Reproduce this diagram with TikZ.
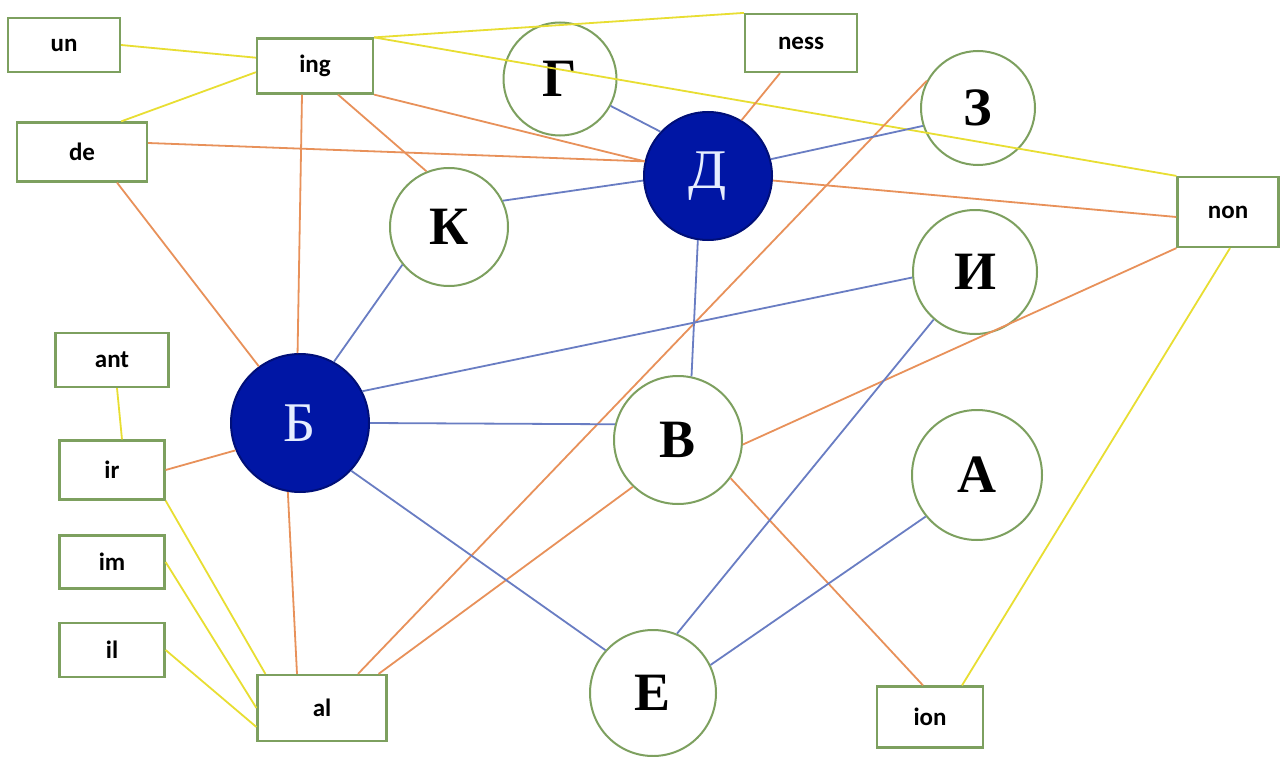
\documentclass[tikz,border=0pt]{standalone}
\usepackage{fontspec}
\setmainfont{Liberation Serif}
\newfontfamily\boxfont{Carlito}
\usetikzlibrary{calc}
\definecolor{gborder}{RGB}{125,160,95}
\definecolor{ylw}{RGB}{232,222,50}
\definecolor{org}{RGB}{232,145,90}
\definecolor{blu}{RGB}{105,125,195}
\definecolor{navy}{RGB}{0,22,165}
\definecolor{navyd}{RGB}{0,15,120}
\definecolor{ltxt}{RGB}{230,238,255}
\begin{document}
\begin{tikzpicture}[x=1pt,y=-1pt,
  pbox/.style n args={2}{rectangle,draw=gborder,line width=2.2pt,inner sep=0pt,
    minimum width=#1pt,minimum height=#2pt,text=black,
    font=\boxfont\bfseries\fontsize{25}{25}\selectfont},
  circ/.style={circle,draw=gborder,line width=2pt,inner sep=0pt,minimum size=#1pt,
    font=\bfseries\fontsize{54}{54}\selectfont},
  fcirc/.style={circ=#1,fill=navy,draw=navyd,text=ltxt,
    font=\fontsize{56}{56}\selectfont},
  conn/.style={line width=1.8pt},
  yl/.style={conn,draw=ylw},
  og/.style={conn,draw=org},
  bl/.style={conn,draw=blu}]
\fill[white] (0,0) rectangle (1280,757);
\useasboundingbox (0,0) rectangle (1280,757);
% boxes
\node[pbox={112}{54}] (un) at (64,45) {un};
\node[pbox={116}{55}] (ing) at (315,66) {ing};
\node[pbox={130}{59}] (de) at (82,152) {de};
\node[pbox={112}{58}] (ness) at (801,43) {ness};
\node[pbox={101}{70}] (non) at (1228,212) {non};
\node[pbox={113}{54}] (ant) at (112,360) {ant};
\node[pbox={105}{59}] (ir) at (112,470) {ir};
\node[pbox={105}{53}] (im) at (112,562) {im};
\node[pbox={105}{54}] (il) at (112,650) {il};
\node[pbox={129}{66}] (al) at (322,708) {al};
\node[pbox={106}{61}] (ion) at (930,717) {ion};
% circles
\node[circ=113] (nG) at (560,79) {Г};
\node[fcirc=128] (nD) at (708,176) {Д};
\node[circ=114] (nZ) at (978,108) {З};
\node[circ=124] (nI) at (975,272) {И};
\node[circ=118] (nK) at (449,227) {К};
\node[fcirc=138] (nB) at (300,423) {Б};
\node[circ=128] (nV) at (678,440) {В};
\node[circ=130] (nA) at (977,475) {А};
\node[circ=126] (nE) at (653,693) {Е};
% yellow
\draw[yl] (un.east) -- (ing.172);
\draw[yl] (de.38) -- (ing.186);
\draw[yl] (ing.north east) -- (ness.north west);
\draw[yl] (ing.north east) -- (non.north west);
\draw[yl] ([xshift=5pt]ant.south) -- ([xshift=10pt]ir.north);
\draw[yl] (ir.south east) -- ([xshift=9pt]al.north west);
\draw[yl] (im.east) -- (al.west);
\draw[yl] (il.east) -- ([yshift=-19pt]al.west);
\draw[yl] ([xshift=2pt]non.south) -- ([xshift=32pt]ion.north);
% orange
\draw[og] ([xshift=-13pt]ing.south) -- (nB.92);
\draw[og] ([xshift=23pt]ing.south) -- (nK.112);
\draw[og] (ing.south east) -- (nD.167);
\draw[og] ([yshift=9pt]de.east) -- (nD.167);
\draw[og] ([xshift=35pt]de.south) -- (nB.126);
\draw[og] ([xshift=-21pt]ness.south) -- (nD.59);
\draw[og] (nD.-4) -- ([yshift=-5pt]non.west);
\draw[og] (ir.east) -- (nB.203);
\draw[og] (nB.260) -- ([xshift=-25pt]al.north);
\draw[og] ([xshift=36pt]al.north) -- (nZ.152);
\draw[og] ([xshift=-9pt]al.north east) -- (nV.226);
\draw[og] (nV.-4) -- (non.south west);
\draw[og] (nV.-36) -- ([xshift=-7pt]ion.north);
% blue
\draw[bl] (nG.-28) -- (nD.137);
\draw[bl] (nD.15) -- (nZ.198);
\draw[bl] (nD.184) -- (nK.26);
\draw[bl] (nD.261) -- (nV.78);
\draw[bl] (nK.219) -- (nB.61);
\draw[bl] (nB.27) -- (nI.185);
\draw[bl] (nB.east) -- (nV.166);
\draw[bl] (nB.-43) -- (nE.138);
\draw[bl] (nI.229) -- (nE.68);
\draw[bl] (nA.219) -- (nE.26);
\end{tikzpicture}
\end{document}
